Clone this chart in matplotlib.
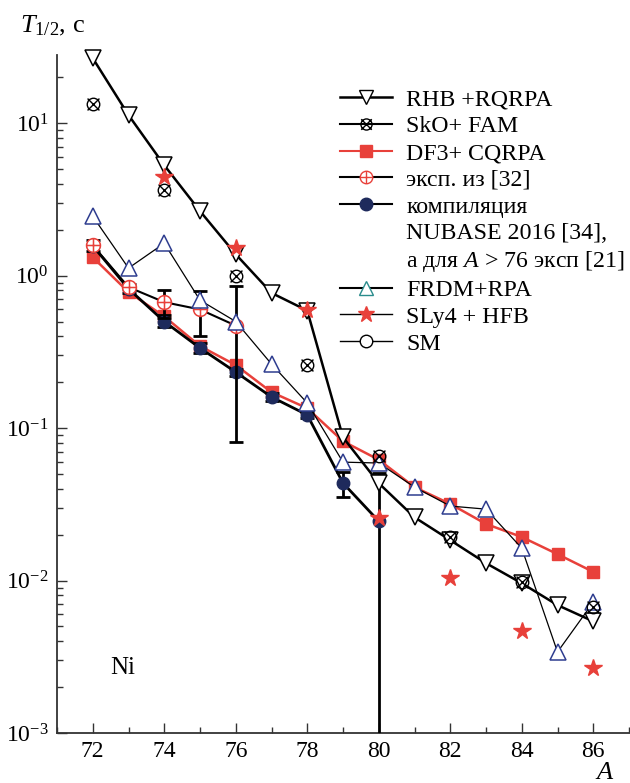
import matplotlib
matplotlib.use('Agg')
import matplotlib.pyplot as plt
from matplotlib.lines import Line2D
from matplotlib.path import Path
from matplotlib.ticker import LogLocator, MultipleLocator, NullFormatter

plt.rcParams['font.family'] = ['Liberation Serif', 'DejaVu Serif']
plt.rcParams['mathtext.fontset'] = 'custom'
plt.rcParams['mathtext.rm'] = 'Liberation Serif'
plt.rcParams['mathtext.it'] = 'Liberation Serif:italic'
plt.rcParams['font.size'] = 17

# периоды полураспада изотопов Ni, с
A_rhb = [72, 73, 74, 75, 76, 77, 78, 79, 80, 81, 82, 83, 84, 85, 86]
t_rhb = [26.7, 11.3, 5.3, 2.65, 1.38, 0.77, 0.59, 0.087, 0.0435, 0.026,
         0.0184, 0.013, 0.0096, 0.0069, 0.0054]

A_sko = [72, 74, 76, 78, 80, 82, 84, 86]
t_sko = [13.3, 3.64, 0.99, 0.259, 0.0655, 0.0193, 0.0098, 0.0067]

A_df3 = [72, 73, 74, 75, 76, 77, 78, 79, 80, 81, 82, 83, 84, 85, 86]
t_df3 = [1.32, 0.78, 0.54, 0.345, 0.259, 0.172, 0.135, 0.082, 0.062, 0.041,
         0.0318, 0.0235, 0.0193, 0.0149, 0.0114]

A_exp = [72, 73, 74, 75, 76]
t_exp = [1.58, 0.84, 0.67, 0.60, 0.47]
exp_lo = [1.58, 0.84, 0.53, 0.40, 0.081]
exp_hi = [1.58, 0.84, 0.80, 0.79, 0.85]

A_nub = [72, 73, 74, 75, 76, 77, 78, 79, 80]
t_nub = [1.57, 0.82, 0.50, 0.335, 0.233, 0.160, 0.122, 0.0436, 0.0245]
nub_lo = [1.45, 0.77, 0.46, 0.31, 0.22, 0.15, 0.117, 0.0353, 1e-5]
nub_hi = [1.70, 0.88, 0.55, 0.36, 0.245, 0.17, 0.127, 0.0515, 0.0507]

A_frdm = [72, 73, 74, 75, 76, 77, 78, 79, 80, 81, 82, 83, 84, 85, 86]
t_frdm = [2.45, 1.12, 1.63, 0.69, 0.50, 0.263, 0.146, 0.0598, 0.059, 0.041,
          0.0308, 0.0294, 0.0163, 0.0034, 0.0072]

A_sly = [74, 76, 78, 80, 82, 84, 86]
t_sly = [4.43, 1.51, 0.594, 0.0257, 0.0104, 0.0047, 0.00267]

red = '#e8403a'
navy = '#1e2a5c'
blue = '#2e3d8f'
teal = '#2a8c8c'

# маркер "кружок с крестом" (SkO+FAM)
circ = Path.unit_circle()
xcross = Path([(-0.95, -0.95), (0.95, 0.95), (-0.95, 0.95), (0.95, -0.95)],
              [Path.MOVETO, Path.LINETO, Path.MOVETO, Path.LINETO])
circ_x = Path.make_compound_path(circ, xcross)
# маркер "кружок с плюсом" (эксп.)
plus = Path([(-1, 0), (1, 0), (0, -1), (0, 1)],
            [Path.MOVETO, Path.LINETO, Path.MOVETO, Path.LINETO])
circ_p = Path.make_compound_path(circ, plus)

fig = plt.figure(figsize=(6.3, 7.83), dpi=100)
ax = fig.add_axes([57 / 630, 50 / 783, 572 / 630, 678 / 783])

ax.plot(A_df3, t_df3, '-s', color=red, lw=1.8, ms=8, zorder=2)

ax.errorbar(A_nub, t_nub,
            yerr=[[t - lo for t, lo in zip(t_nub, nub_lo)],
                  [hi - t for t, hi in zip(t_nub, nub_hi)]],
            fmt='-o', color='black', lw=2, ms=9, mfc=navy, mec=navy,
            elinewidth=2, capsize=5, capthick=2, zorder=3)

ax.errorbar(A_exp, t_exp,
            yerr=[[t - lo for t, lo in zip(t_exp, exp_lo)],
                  [hi - t for t, hi in zip(t_exp, exp_hi)]],
            fmt='-', color='black', lw=1.5, elinewidth=2, capsize=5,
            capthick=2, zorder=4)
ax.plot(A_exp, t_exp, ls='none', marker=circ_p, ms=10, mfc='white',
        mec=red, mew=1.1, zorder=5)

ax.plot(A_frdm, t_frdm, '-^', color='black', lw=0.9, ms=11, mfc='white',
        mec=blue, mew=1.1, zorder=6)

ax.plot(A_rhb, t_rhb, '-v', color='black', lw=1.8, ms=11, mfc='white',
        mec='black', mew=1.1, zorder=7, clip_on=False)

ax.plot(A_sko, t_sko, ls='none', marker=circ_x, ms=9, mfc='none',
        mec='black', mew=1.0, zorder=8)

ax.plot(A_sly, t_sly, ls='none', marker='*', ms=13, color=red, zorder=9)

ax.set_yscale('log')
ax.set_xlim(71, 87)
ax.set_ylim(1e-3, 28)
ax.xaxis.set_major_locator(MultipleLocator(2))
ax.xaxis.set_minor_locator(MultipleLocator(1))
ax.yaxis.set_major_locator(LogLocator(base=10, numticks=10))
ax.yaxis.set_minor_locator(LogLocator(base=10, subs=range(2, 10), numticks=20))
ax.yaxis.set_minor_formatter(NullFormatter())
ax.tick_params(which='both', direction='in', labelsize=17, width=1,
               color='#333333')
ax.tick_params(which='major', length=7, pad=6)
ax.tick_params(which='minor', length=4)
for s in ['top', 'right']:
    ax.spines[s].set_visible(False)
for s in ['left', 'bottom']:
    ax.spines[s].set_linewidth(1.3)
    ax.spines[s].set_color('#333333')

ax.text(72.48, 0.00267, 'Ni', ha='left', va='center', fontsize=18)
fig.text(20 / 630, 1 - 32 / 783, r'$T_{\mathrm{1/2}}$, с', fontsize=19)
fig.text(596 / 630, 1 - 779 / 783, 'A', fontstyle='italic', fontsize=19)

blank = Line2D([], [], ls='none', marker='none')
handles = [
    Line2D([], [], color='black', lw=1.8, marker='v', ms=10, mfc='white', mec='black'),
    Line2D([], [], color='black', lw=1.5, marker=circ_x, ms=8, mfc='none', mec='black'),
    Line2D([], [], color=red, lw=1.5, marker='s', ms=8),
    Line2D([], [], color='black', lw=1.5, marker=circ_p, ms=9, mfc='white', mec=red),
    Line2D([], [], color='black', lw=1.5, marker='o', ms=9, mfc=navy, mec=navy),
    blank, blank,
    Line2D([], [], color='black', lw=1.5, marker='^', ms=10, mfc='white', mec=teal),
    Line2D([], [], color='black', lw=1.0, marker='*', ms=12, mfc=red, mec=red),
    Line2D([], [], color='black', lw=1.0, marker='o', ms=9, mfc='white', mec='black'),
]
labels = ['RHB +RQRPA', 'SkO+ FAM', 'DF3+ CQRPA', 'эксп. из [32]',
          'компиляция', 'NUBASE 2016 [34],', r'а для $A$ > 76 эксп [21]',
          'FRDM+RPA', 'SLy4 + HFB', 'SM']
ax.legend(handles, labels, loc='upper left', bbox_to_anchor=(0.494, 0.95),
          frameon=False, fontsize=17.2, borderpad=0, borderaxespad=0,
          handlelength=2.2, handletextpad=0.6, labelspacing=0.21)

fig.savefig('out.png', dpi=100)
